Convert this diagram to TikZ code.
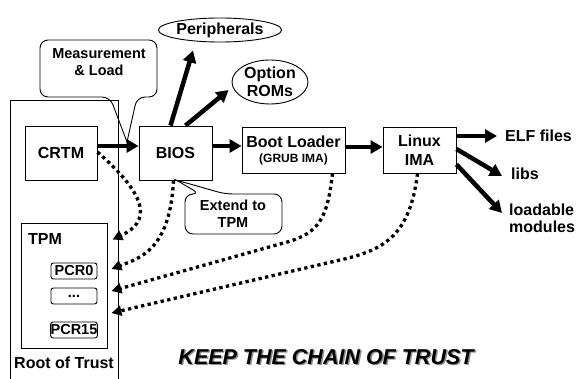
\documentclass[tikz,border=0pt]{standalone}
\usepackage{fontspec}
\setmainfont{Liberation Sans}
\usetikzlibrary{arrows.meta,calc,shapes.geometric}
\begin{document}
\begin{tikzpicture}[x=1pt,y=-1pt,
  lbl/.style={font=\bfseries\fontsize{16}{19}\selectfont, align=center},
  blk/.style={draw, line width=0.9pt, inner sep=0pt, lbl},
  oval/.style={draw, ellipse, line width=0.9pt, inner sep=0pt, lbl},
  pcr/.style={draw, line width=0.9pt, rounded corners=2.5pt, inner sep=0pt,
    minimum width=46pt, minimum height=16pt, font=\bfseries\fontsize{14.5}{16}\selectfont},
  flow/.style={line width=4.5pt, -{Triangle[length=12pt,width=13pt]}},
  trust/.style={line width=3.3pt, dash pattern=on 3.3pt off 3.4pt, -{Triangle[length=10pt,width=10pt]}},
  calloutline/.style={draw, line width=0.9pt, rounded corners=8pt},
  cotext/.style={font=\bfseries\fontsize{14.5}{18}\selectfont, align=center},
  plain/.style={inner sep=0pt, lbl},
]
\useasboundingbox (0,0) rectangle (580,379);

% Root of trust frame
\draw[line width=0.9pt] (10,380) -- (10,100) -- (118,100) -- (118,380);
\node[plain, anchor=base] (rot) at (64,368) {Root of Trust};

% main boxes
\node[blk, minimum width=72pt, minimum height=54pt] (crtm) at (61,153) {CRTM};
\node[blk, minimum width=73pt, minimum height=54pt] (bios) at (175.5,153) {BIOS};
\node[blk, minimum width=103pt, minimum height=46pt] (boot) at (293.5,150)
  {Boot Loader\\[-4pt]{\fontsize{12}{14}\selectfont (GRUB IMA)}};
\node[blk, minimum width=73pt, minimum height=46pt] (linux) at (419.5,150) {Linux\\IMA};

% TPM
\node[draw, line width=0.9pt, minimum width=86pt, minimum height=125pt, inner sep=0pt] (tpm) at (64,285.5) {};
\node[plain, anchor=base west] (tpmlbl) at (28,244) {TPM};
\node[pcr] (pcr0) at (74,271) {PCR0};
\node[pcr] (dots) at (74,296) {...};
\node[pcr] (pcr15) at (74,330) {PCR15};

% ellipses
\node[oval, minimum width=105pt, minimum height=24pt] (periph) at (220,30) {Peripherals};
\node[oval, minimum width=76pt, minimum height=44pt] (opt) at (270,82) {Option\\[-1pt]ROMs};

% right labels
\node[plain, anchor=west] (elf) at (505,136) {ELF files};
\node[plain, anchor=west] (libs) at (511,174) {libs};
\node[plain, anchor=west, align=left] (load) at (509,218) {loadable\\[-2pt]modules};

% callouts
\node[cotext] (meastxt) at (99,62) {Measurement\\[-1pt]\& Load};
\coordinate (meastip) at (127,142);
\path[calloutline] (meastip) -- (110,97) [rounded corners=8pt] -- (40,97) -- (40,40) -- (157,40) -- (157,97) -- (137,97) [sharp corners] -- cycle;

\node[cotext] (exttxt) at (233,214) {Extend to\\[-1pt]TPM};
\coordinate (exttip) at (176,180);
\path[calloutline] (exttip) -- (225,194) [rounded corners=8pt] -- (282,194) -- (282,234) -- (185,234) -- (185,194) -- (200,194) [sharp corners] -- cycle;

% flow arrows
\draw[flow] ([yshift=7pt]crtm.east) -- ([yshift=7pt]crtm.east -| bios.west);
\draw[flow] ([yshift=7pt]bios.east) -- ([yshift=7pt]bios.east -| boot.west);
\draw[flow] ([yshift=3pt]boot.east) -- ([yshift=3pt]boot.east -| linux.west);
\draw[flow] ([xshift=-5pt]bios.north) -- ($(periph.south)+(-27,8)$);
\draw[flow] ([xshift=10pt]bios.north) -- ($(opt.west)+(-3,8)$);
\draw[flow, shorten >=8pt] ([yshift=14pt]linux.east) -- ([yshift=14pt]linux.east -| elf.west);
\draw[flow] ([yshift=1pt]linux.east) -- ($(libs.west)+(-9,2)$);
\draw[flow] ([yshift=9pt]linux.south east) -- ($(load.west)+(-7,-5)$);

% measurement (dotted) arrows
\draw[trust] ([yshift=1pt]crtm.east) .. controls (150,198) and (150,222) .. ($(tpm.north east)+(5,17)$);
\draw[trust] ([xshift=-2pt]bios.south) .. controls (170,250) and (140,258) .. ($(pcr0.east)+(14,-2)$);
\draw[trust] ([xshift=39pt]boot.south) .. controls (327,225) and (315,235) .. (280,244) -- ($(dots.east)+(14,-5)$);
\draw[trust] ([xshift=-2pt]linux.south) .. controls (410,235) and (385,250) .. (340,260) -- ($(dots.east)+(14,17)$);

% motto
\node[font=\bfseries\itshape\fontsize{21.5}{24}\selectfont, text=black!45] (mottoshadow) at (327.5,358.5) {KEEP THE CHAIN OF TRUST};
\node[font=\bfseries\itshape\fontsize{21.5}{24}\selectfont] (motto) at (326,357) {KEEP THE CHAIN OF TRUST};
\end{tikzpicture}
\end{document}
